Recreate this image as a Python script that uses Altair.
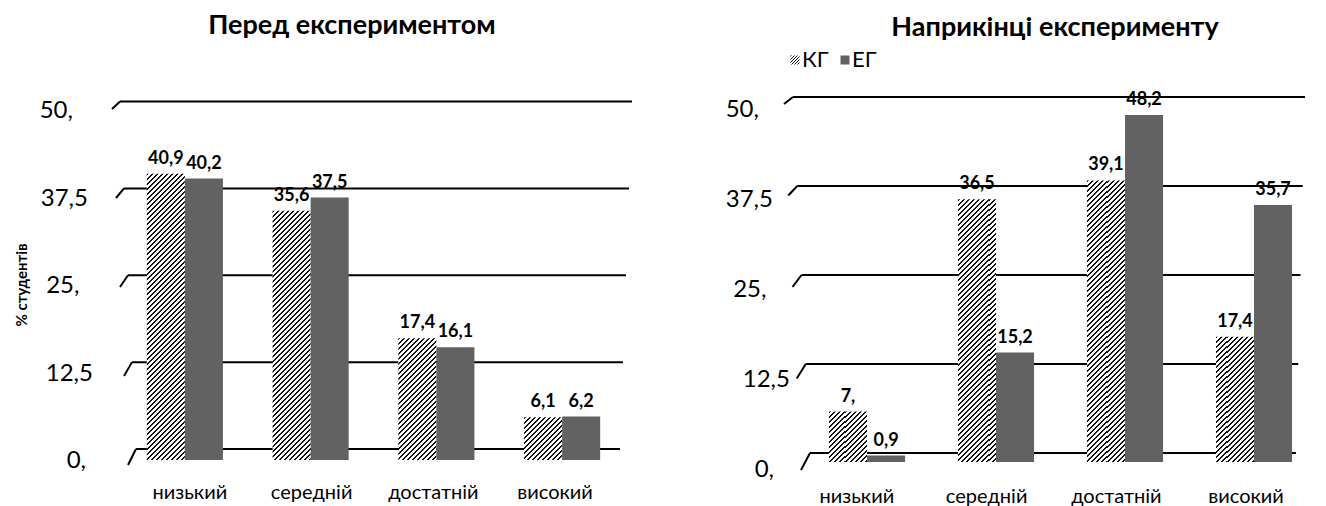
import math
import altair as alt
import pandas as pd

# ---------------- data ----------------
categories = ["низький", "середній", "достатній", "високий"]
groups = ["КГ", "ЕГ"]
before_kg = [40.9, 35.6, 17.4, 6.1]
before_eg = [40.2, 37.5, 16.1, 6.2]
after_kg = [7.0, 36.5, 39.1, 17.4]
after_eg = [0.9, 15.2, 48.2, 35.7]
tick_values = [0, 12.5, 25, 37.5, 50]
tick_labels = ["0,", "12,5", "25,", "37,5", "50,"]
titles = ["Перед експериментом", "Наприкінці експерименту"]
y_title = "% студентів"

FONT = "Lato"
PANEL_W, PANEL_H = 663, 506
EG_GRAY = "#626262"


def fmt(v):
    s = f"{v:g}".replace(".", ",")
    if "," not in s:
        s += ","
    return s


def stripes(w, h, period=5.0, frac=0.4):
    # diagonal "/" hatching; period = horizontal distance between lines (px)
    s = (w + h) / (w * w + h * h)
    n = (w + h) / period
    stops = []
    k = 0
    while k < n:
        o0 = k / n
        o1 = min((k + frac) / n, 1.0)
        o2 = min((k + 1) / n, 1.0)
        stops += [(o0, "#111111"), (o1, "#111111"), (o1, "#ffffff"), (o2, "#ffffff")]
        k += 1
    return alt.Gradient(
        gradient="linear", x1=0, y1=0, x2=w * s, y2=h * s,
        stops=[alt.GradientStop(offset=o, color=c) for o, c in stops],
    )


def band_scale(x0, x1, pi):
    return alt.Scale(domain=categories, range=[x0, x1], paddingInner=pi, paddingOuter=pi / 2)


def panel(title, kg, eg, g):
    df = pd.DataFrame({
        "cat": categories * 2,
        "grp": [groups[0]] * 4 + [groups[1]] * 4,
        "v": kg + eg,
        "lab": [fmt(v) for v in kg + eg],
    })
    dummy = pd.DataFrame({"a": [0]})
    front = alt.Scale(domain=[0, 50], range=[g["y0"], g["y50"]])
    back = alt.Scale(domain=[0, 50], range=[g["b0"], g["b50"]])
    xsc = band_scale(g["x0"], g["x1"], g["pi"])
    xo = alt.XOffset("grp:N", scale=alt.Scale(domain=groups, paddingInner=0, paddingOuter=0))
    X = alt.X("cat:N", scale=xsc, axis=None)
    step = (g["x1"] - g["x0"]) / 4.0
    bw = step * (1 - g["pi"]) / 2
    kpx = (g["y0"] - g["y50"]) / 50.0

    layers = []
    # grid lines (back wall) with perspective diagonal
    for v in tick_values:
        xl = g["gl0"] + g["glk"] * v
        xr = g["gr0"] + g["grk"] * v
        rise = g["rise0"] + g["risek"] * v
        layers.append(alt.Chart(dummy).mark_rule(color="black", strokeWidth=2).encode(
            x=alt.value(xl), x2=alt.value(xr), y=alt.YDatum(v, scale=back, axis=None)))
        layers.append(alt.Chart(dummy).mark_rule(color="black", strokeWidth=2, yOffset=rise).encode(
            x=alt.value(xl - g["dx"]), x2=alt.value(xl),
            y=alt.YDatum(v, scale=back, axis=None), y2=alt.Y2Datum(v)))
    # bars
    for i, c in enumerate(categories):
        for gi, grp in enumerate(groups):
            val = (kg if gi == 0 else eg)[i]
            fill = stripes(bw, max(val * kpx, 1.0)) if gi == 0 else EG_GRAY
            layers.append(alt.Chart(df).transform_filter(
                (alt.datum.cat == c) & (alt.datum.grp == grp)
            ).mark_bar(fill=fill).encode(
                x=X, xOffset=xo,
                y=alt.Y("v:Q", scale=front, axis=None), y2=alt.Y2Datum(0)))
    # value labels
    layers.append(alt.Chart(df).mark_text(
        font=FONT, fontSize=g["vfs"], fontWeight="bold", baseline="bottom", dy=-6, color="black"
    ).encode(x=X, xOffset=xo, y=alt.Y("v:Q", scale=front, axis=None), text="lab:N"))
    # category labels (front edge, perspective-shifted band scale)
    layers.append(alt.Chart(df[df.grp == groups[0]]).mark_text(
        font=FONT, fontSize=g["cfs"], baseline="middle", color="black"
    ).encode(x=alt.X("cat:N", scale=band_scale(g["lx0"], g["lx1"], g["pi"]), axis=None),
             y=alt.value(g["caty"]), text="cat:N"))
    # y tick labels (perspective shifted)
    for v, lab in zip(tick_values, tick_labels):
        if lab.endswith(","):
            tx = g["tc0"] + g["tck"] * v
        else:
            tx = g["t50"] + g["t5k"] * v
        layers.append(alt.Chart(dummy).mark_text(
            font=FONT, fontSize=g["tfs"], align="right", baseline="middle", dy=g["tdy"], color="black"
        ).encode(x=alt.value(tx), y=alt.YDatum(v, scale=front, axis=None), text=alt.value(lab)))
    # title
    layers.append(alt.Chart(dummy).mark_text(
        font=FONT, fontSize=g["ttfs"], fontWeight="bold", color="black"
    ).encode(x=alt.value(g["tx"]), y=alt.value(g["ty"]), text=alt.value(title)))
    if g.get("ytitle"):
        layers.append(alt.Chart(dummy).mark_text(
            font=FONT, fontSize=15, fontWeight="bold", angle=270, color="black"
        ).encode(x=alt.value(22), y=alt.value(285), text=alt.value(y_title)))
    if g.get("legend"):
        lx = g["legend"]
        for gi, grp in enumerate(groups):
            fill = stripes(9, 9, period=3.0, frac=0.45) if gi == 0 else EG_GRAY
            layers.append(alt.Chart(dummy).mark_square(size=81, fill=fill, opacity=1).encode(
                x=alt.value(lx[gi]), y=alt.value(60)))
            layers.append(alt.Chart(dummy).mark_text(
                font=FONT, fontSize=22, align="left", baseline="middle", color="black"
            ).encode(x=alt.value(lx[gi] + 7), y=alt.value(60), text=alt.value(grp)))
    return alt.layer(*layers).resolve_scale(x="independent", y="independent").properties(
        width=PANEL_W, height=PANEL_H)


left_geo = dict(y0=460, y50=110, b0=449, b50=101.5, x0=122, x1=625, pi=0.395,
                lx0=129, lx1=616,
                gl0=136, glk=-0.32, gr0=620, grk=0.24, rise0=16, risek=-0.17, dx=8,
                tc0=86, tck=-0.26, t50=95.5, t5k=-0.2, tdy=1,
                tfs=24, vfs=18, cfs=20, caty=493,
                ttfs=27, tx=352, ty=26, ytitle=True)
right_geo = dict(y0=462, y50=102, b0=453, b50=97, x0=138.5, x1=654.5, pi=0.426,
                 lx0=129, lx1=648,
                 gl0=147, glk=-0.34, gr0=633, grk=0.18, rise0=17, risek=-0.2, dx=9,
                 tc0=111, tck=-0.3, t50=135.5, t5k=-0.68, tdy=8,
                 tfs=24, vfs=18, cfs=20, caty=497,
                 ttfs=27, tx=392, ty=28, legend=[132, 182])

chart = alt.hconcat(
    panel(titles[0], before_kg, before_eg, left_geo),
    panel(titles[1], after_kg, after_eg, right_geo),
    spacing=0,
).properties(
    padding=0, background="white"
).configure_view(stroke=None)

chart.save("out.html", embed_options={"renderer": "svg", "actions": False})
